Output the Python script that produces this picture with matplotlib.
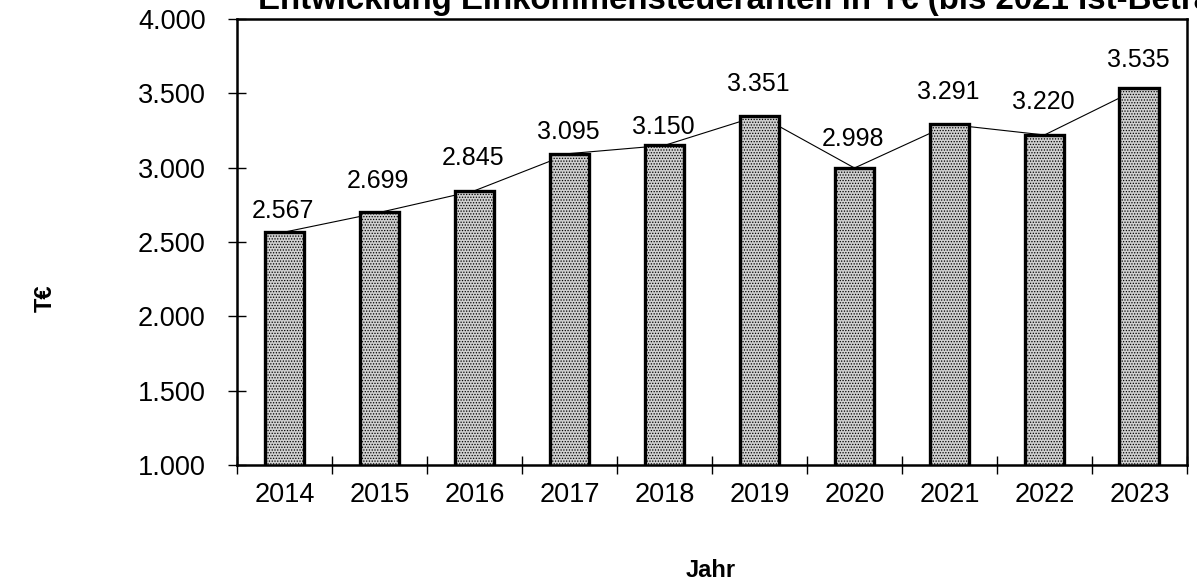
import matplotlib
matplotlib.use("Agg")
import matplotlib.pyplot as plt
import numpy as np

plt.rcParams['font.family'] = ['Liberation Sans', 'DejaVu Sans']
plt.rcParams['hatch.color'] = '#707070'
plt.rcParams['hatch.linewidth'] = 0.6

years = ['2014', '2015', '2016', '2017', '2018', '2019', '2020', '2021', '2022', '2023']
values = [2567, 2699, 2845, 3095, 3150, 3351, 2998, 3291, 3220, 3535]
labels = ['2.567', '2.699', '2.845', '3.095', '3.150', '3.351', '2.998', '3.291', '3.220', '3.535']
yticks = [1000, 1500, 2000, 2500, 3000, 3500, 4000]
ytick_labels = ['1.000', '1.500', '2.000', '2.500', '3.000', '3.500', '4.000']
title = 'Entwicklung Einkommensteueranteil in T€ (bis 2021 Ist-Beträge)'

# styling: vertical gap (points) of each value label above its bar
label_gap_pt = [6.5, 13.7, 15, 7, 4.3, 13.7, 12.2, 14.4, 15, 11.5]

fig = plt.figure(figsize=(11.97, 5.85), dpi=100)
ax = fig.add_axes([0.198, 0.205, 0.7936, 0.7625])

x = np.arange(len(years))
ax.plot(x, values, color='black', lw=0.8, zorder=1)
ax.bar(x, values, width=0.42, bottom=0, color='#d0d0d0', edgecolor='black',
       linewidth=2.4, hatch='......', zorder=2)
for xi, v, lab, g in zip(x, values, labels, label_gap_pt):
    ax.annotate(lab, (xi, v), xytext=(-1, g), textcoords='offset points',
                ha='center', va='bottom', fontsize=18)

ax.set_xlim(-0.5, len(years) - 0.5)
ax.set_ylim(1000, 4000)
ax.set_yticks(yticks)
ax.set_yticklabels(ytick_labels, fontsize=19.5)
ax.set_xticks(x)
ax.set_xticklabels(years, fontsize=19.5)
ax.tick_params(axis='x', length=0, pad=12)
ax.set_xticks(np.arange(len(years) + 1) - 0.5, minor=True)
ax.tick_params(axis='x', which='minor', direction='inout', length=13, width=1)
ax.tick_params(axis='y', direction='inout', length=13, width=1, pad=16)
for s in ax.spines.values():
    s.set_linewidth(1.8)

fig.text(0.038, 0.49, 'T€', rotation=90, fontsize=17, fontweight='bold', ha='center', va='center')
fig.text(0.594, 0.013, 'Jahr', fontsize=17, fontweight='bold', ha='center', va='baseline')
fig.text(258 / 1197, 1 - 9 / 585, title, fontsize=23.8, fontweight='bold', ha='left', va='baseline')

fig.savefig('out.png', dpi=100)
